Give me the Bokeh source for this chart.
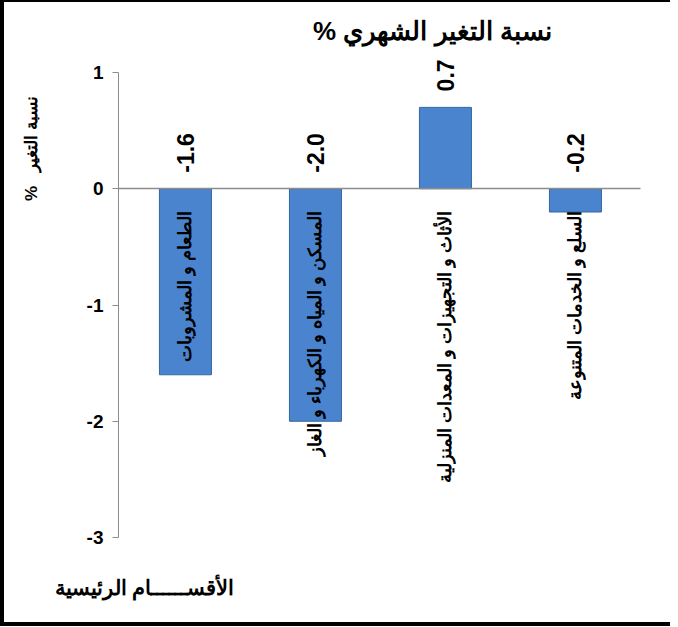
from bokeh.plotting import figure
from bokeh.models import Range1d, LabelSet, ColumnDataSource, FixedTicker
from bokeh.core.properties import value
from bokeh.embed import file_html
from bokeh.resources import INLINE
import math

categories = ["الطعام و المشروبات",
              "المسكن و المياه و الكهرباء و الغاز",
              "الأثاث و التجهيزات و المعدات المنزلية",
              "السلع و الخدمات المتنوعة"]
values = [-1.6, -2.0, 0.7, -0.2]
value_labels = ["-1.6", "-2.0", "0.7", "-0.2"]
y_ticks = [1, 0, -1, -2, -3]
y_tick_labels = ["1", "0", "-1", "-2", "-3"]
title_text = "% نسبة التغير الشهري"
y_title = "%\u00a0\u00a0\u00a0نسبة التغير"
x_title = "الأقســــــام الرئيسية"

FONT = "Liberation Sans"

p = figure(width=670, height=626, output_backend="svg", toolbar_location=None,
           x_range=Range1d(-1.3919, 3.7619), y_range=Range1d(-3.7828, 1.6022),
           min_border_left=0, min_border_right=0, min_border_top=0, min_border_bottom=0)
p.styles = {"border-left": "4px solid black", "border-top": "2px solid black",
            "border-bottom": "4px solid black"}
p.outline_line_color = None
p.xgrid.visible = False
p.ygrid.visible = False

# category axis crossing at zero (the zero line)
xa = p.xaxis[0]
xa.fixed_location = 0
xa.bounds = (-0.515, 3.5)
xa.ticker = FixedTicker(ticks=[])
xa.major_label_text_font_size = "0px"
xa.axis_line_color = "#8c8c8c"
xa.axis_line_width = 1.6
xa.major_tick_line_color = None
xa.minor_tick_line_color = None

ax = p.yaxis[0]
ax.fixed_location = -0.515
ax.bounds = (-3, 1)
ax.ticker = FixedTicker(ticks=y_ticks)
ax.major_label_overrides = {t: s for t, s in zip(y_ticks, y_tick_labels)}
ax.axis_line_color = "#8c8c8c"
ax.major_tick_line_color = "#8c8c8c"
ax.major_tick_out = 6
ax.major_tick_in = 0
ax.minor_tick_line_color = None
ax.major_label_text_font = FONT
ax.major_label_text_font_style = "bold"
ax.major_label_text_font_size = "19px"
ax.major_label_text_color = "black"
ax.major_label_standoff = 9

xs = list(range(len(values)))
src = ColumnDataSource(dict(x=xs, top=values, bottom=[0]*len(values),
                            lab_y=[max(v, 0) for v in values],
                            vlab=value_labels, cat=categories,
                            zero=[0]*len(values)))

p.vbar(x="x", top="top", bottom="bottom", width=0.4, source=src,
       fill_color="#4a84cf", line_color="#34669f", line_width=1)

vl = LabelSet(x="x", y="lab_y", text="vlab", source=src, angle=math.pi/2,
              text_align="left", text_baseline="middle", y_offset=16,
              text_font=value(FONT), text_font_style="bold", text_font_size="23px",
              text_color="black")
p.add_layout(vl)

cl = LabelSet(x="x", y="zero", text="cat", source=src, angle=math.pi/2,
              text_align="right", text_baseline="middle", y_offset=-22,
              text_font=value(FONT), text_font_style="bold", text_font_size="18px",
              text_color="black")
p.add_layout(cl)

tsrc = ColumnDataSource(dict(x=[1.9], y=[1.361], t=[title_text]))
p.add_layout(LabelSet(x="x", y="y", text="t", source=tsrc, text_align="center",
                      text_baseline="middle", text_font=value(FONT), text_font_style="bold",
                      text_font_size="26px", text_color="black"))
ysrc = ColumnDataSource(dict(x=[-1.184], y=[0.346], t=[y_title]))
p.add_layout(LabelSet(x="x", y="y", text="t", source=ysrc, angle=math.pi/2,
                      text_align="center", text_baseline="middle", text_font=value(FONT),
                      text_font_style="bold", text_font_size="17px", text_color="black"))
xsrc = ColumnDataSource(dict(x=[-0.315], y=[-3.43], t=[x_title]))
p.add_layout(LabelSet(x="x", y="y", text="t", source=xsrc, text_align="center",
                      text_baseline="middle", text_font=value(FONT), text_font_style="bold",
                      text_font_size="21px", text_color="black"))

open("out.html", "w").write(file_html(p, INLINE))
